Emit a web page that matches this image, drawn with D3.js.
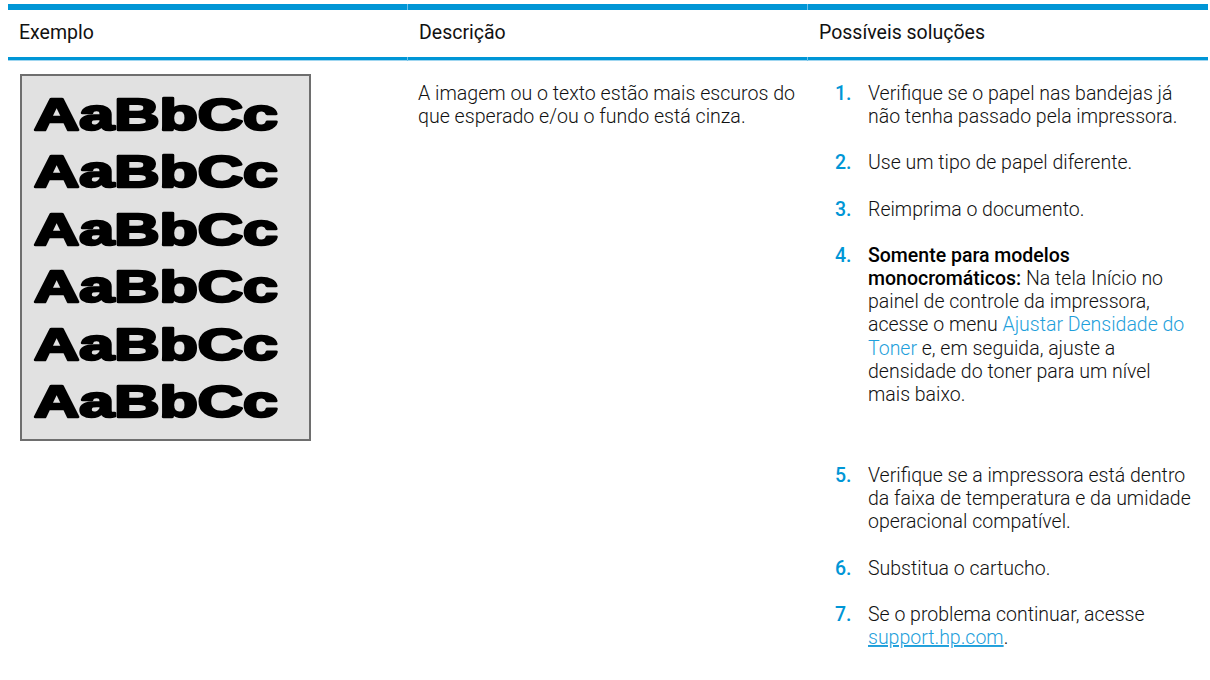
<!DOCTYPE html>
<html>
<head>
<meta charset="utf-8">
<script src="https://cdn.jsdelivr.net/npm/d3@7"></script>
<style>
  html, body { margin: 0; padding: 0; background: #fff; }
  svg { display: block; }
</style>
</head>
<body>
<script>
// ---------- data ----------
const headers = ["Exemplo", "Descrição", "Possíveis soluções"];
const exampleRows = ["AaBbCc", "AaBbCc", "AaBbCc", "AaBbCc", "AaBbCc", "AaBbCc"];
const descriptionLines = [
  "A imagem ou o texto estão mais escuros do",
  "que esperado e/ou o fundo está cinza."
];
const solutionNumbers = ["1.", "2.", "3.", "4.", "5.", "6.", "7."];
// each solution: list of lines, each line a list of [text, kind]
const solutionLines = [
  [[["Verifique se o papel nas bandejas já", "n"]], [["não tenha passado pela impressora.", "n"]]],
  [[["Use um tipo de papel diferente.", "n"]]],
  [[["Reimprima o documento.", "n"]]],
  [
    [["Somente para modelos", "b"]],
    [["monocromáticos:", "b"], [" Na tela Início no", "n"]],
    [["painel de controle da impressora,", "n"]],
    [["acesse o menu ", "n"], ["Ajustar Densidade do", "l"]],
    [["Toner", "l"], [" e, em seguida, ajuste a", "n"]],
    [["densidade do toner para um nível", "n"]],
    [["mais baixo.", "n"]]
  ],
  [
    [["Verifique se a impressora está dentro", "n"]],
    [["da faixa de temperatura e da umidade", "n"]],
    [["operacional compatível.", "n"]]
  ],
  [[["Substitua o cartucho.", "n"]]],
  [[["Se o problema continuar, acesse", "n"]], [["support.hp.com", "u"], [".", "n"]]]
];
// blank line units after each solution item
const solutionGaps = [1, 1, 1, 2.5, 1, 1, 0];

// ---------- layout ----------
const W = 1210, H = 680;
const blue = "#0096d6";
const svg = d3.select("body").append("svg").attr("width", W).attr("height", H)
  .style("font-family", "Roboto, 'Noto Sans', sans-serif");

const col = d3.scaleBand().domain(headers).range([8, 1208]);

// header bars
svg.append("g").selectAll("rect").data(headers).join("rect")
  .attr("x", d => col(d)).attr("y", 4).attr("width", col.bandwidth()).attr("height", 6)
  .attr("fill", blue);
svg.append("g").selectAll("rect").data(headers).join("rect")
  .attr("x", d => col(d)).attr("y", 57).attr("width", col.bandwidth()).attr("height", 3)
  .attr("fill", blue);
svg.append("g").selectAll("rect").data(headers).join("rect")
  .attr("x", d => col(d)).attr("y", 60).attr("width", col.bandwidth()).attr("height", 1)
  .attr("fill", "#9fd6f0");
// separators between header cells
svg.append("g").selectAll("rect").data(headers.slice(1)).join("rect")
  .attr("x", d => col(d) - 1).attr("y", 4).attr("width", 1).attr("height", 6)
  .attr("fill", "#6fc0e8");
svg.append("g").selectAll("rect").data(headers.slice(1)).join("rect")
  .attr("x", d => col(d) - 1).attr("y", 57).attr("width", 1).attr("height", 4)
  .attr("fill", "#6fc0e8");

// header text
svg.append("g").selectAll("text").data(headers).join("text")
  .attr("x", d => col(d) + 11).attr("y", 39)
  .attr("font-size", 19.5).attr("fill", "#111")
  .text(d => d);

// ---------- example image ----------
const exX = col(headers[0]) + 12;
const box = svg.append("g");
box.append("rect").attr("x", exX + 1).attr("y", 75).attr("width", 289).attr("height", 365)
  .attr("fill", "#e1e1e1").attr("stroke", "#6e6e6e").attr("stroke-width", 2);
const rowY = d3.scaleLinear().domain([0, exampleRows.length - 1]).range([130, 417]);
box.selectAll("text").data(exampleRows).join("text")
  .attr("x", exX + 14).attr("y", (d, i) => rowY(i))
  .attr("font-family", "'Liberation Sans', Arial, sans-serif")
  .attr("font-weight", 700).attr("font-size", 45)
  .attr("textLength", 244).attr("lengthAdjust", "spacingAndGlyphs")
  .attr("fill", "#000").attr("stroke", "#000").attr("stroke-width", 2.6)
  .attr("stroke-linejoin", "round")
  .text(d => d);

// ---------- description ----------
const lineH = 23.15;
const descY = d3.scaleLinear().domain([0, 1]).range([100, 100 + lineH]);
svg.append("g").selectAll("text").data(descriptionLines).join("text")
  .attr("x", col(headers[1]) + 10).attr("y", (d, i) => descY(i))
  .attr("font-size", 19.6).attr("font-weight", 300).attr("fill", "#111")
  .text(d => d);

// ---------- solutions ----------
let idx = 0;
const items = solutionLines.map((lines, i) => {
  const start = idx;
  idx += lines.length + solutionGaps[i];
  return { num: solutionNumbers[i], lines, start };
});
const totalLines = items[items.length - 1].start + items[items.length - 1].lines.length - 1;
const solY = d3.scaleLinear().domain([0, totalLines]).range([100, 644]);
const numX = col(headers[2]) + 27;
const txtX = col(headers[2]) + 60;
const kindStyle = {
  n: { fill: "#111", weight: 300 },
  b: { fill: "#000", weight: 500 },
  l: { fill: "#1f9fdb", weight: 300 },
  u: { fill: "#1f9fdb", weight: 300 }
};
const sg = svg.append("g");
sg.selectAll("text.num").data(items).join("text").attr("class", "num")
  .attr("x", numX).attr("y", d => solY(d.start))
  .attr("font-size", 19.5).attr("font-weight", 500).attr("fill", blue)
  .text(d => d.num);
const flatLines = items.flatMap(it => it.lines.map((ln, j) => ({ segs: ln, li: it.start + j })));
const lt = sg.selectAll("text.line").data(flatLines).join("text").attr("class", "line")
  .attr("x", txtX).attr("y", d => solY(d.li))
  .attr("font-size", 19.5).attr("xml:space", "preserve").style("white-space", "pre");
lt.selectAll("tspan").data(d => d.segs).join("tspan")
  .attr("fill", s => kindStyle[s[1]].fill)
  .attr("font-weight", s => kindStyle[s[1]].weight)
  .style("text-decoration", s => s[1] === "u" ? "underline" : null)
  .text(s => s[0]);
</script>
</body>
</html>
